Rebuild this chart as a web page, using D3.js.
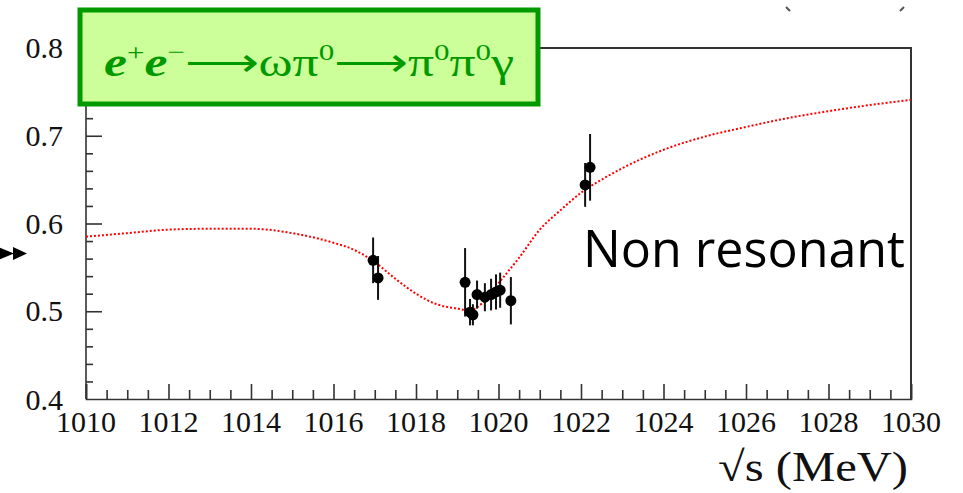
<!DOCTYPE html>
<html>
<head>
<meta charset="utf-8">
<script src="https://cdn.jsdelivr.net/npm/d3@7"></script>
<style>
  body { margin: 0; background: #fff; }
  svg { display: block; }
  .serif { font-family: 'Liberation Serif', 'Times New Roman', serif; }
</style>
</head>
<body>
<div id="chart"></div>
<script>
// fit curve (non resonant + interference)
const curveE = [1010, 1011, 1012, 1013, 1014, 1015, 1016, 1016.5, 1017, 1017.5, 1018, 1018.5, 1019, 1019.3, 1019.6, 1020, 1020.5, 1021, 1021.5, 1022, 1022.5, 1023, 1024, 1025, 1026, 1027, 1028, 1029, 1030];
const curveV = [0.585, 0.589, 0.593, 0.594, 0.594, 0.589, 0.578, 0.570, 0.556, 0.537, 0.520, 0.508, 0.503, 0.501, 0.509, 0.532, 0.561, 0.593, 0.615, 0.635, 0.650, 0.663, 0.684, 0.699, 0.710, 0.720, 0.728, 0.735, 0.741];

// measured points
const ptE = [1016.96, 1017.08, 1019.19, 1019.31, 1019.38, 1019.48, 1019.67, 1019.82, 1019.94, 1020.04, 1020.30, 1022.10, 1022.22];
const ptV = [0.558, 0.538, 0.533, 0.499, 0.496, 0.519, 0.516, 0.519, 0.522, 0.524, 0.512, 0.644, 0.664];
const ptErr = [0.026, 0.025, 0.039, 0.015, 0.012, 0.016, 0.016, 0.018, 0.020, 0.020, 0.027, 0.025, 0.038];

const xTicks = [1010, 1012, 1014, 1016, 1018, 1020, 1022, 1024, 1026, 1028, 1030];
const yTicks = [0.5, 0.6, 0.7, 0.8];

const W = 963, H = 493;
const svg = d3.select("#chart").append("svg")
    .attr("width", W)
    .attr("height", H);

const x = d3.scaleLinear().domain([1010, 1030]).range([86, 911]);
const y = d3.scaleLinear().domain([0.4, 0.8]).range([399, 48]);

const frame = "#333";

// frame (top + right)
svg.append("path")
    .attr("d", `M${x(1010)},${y(0.8)}H${x(1030)}V${y(0.4)}`)
    .attr("fill", "none")
    .attr("stroke", frame)
    .attr("stroke-width", 2);

// minor ticks
const xMinor = d3.range(1010, 1030.01, 0.5).filter(v => v % 2 !== 0);
const yMinor = d3.range(0.4, 0.801, 0.02).filter(v => Math.abs(v * 10 - Math.round(v * 10)) > 1e-6);

const gx = svg.append("g")
    .attr("transform", `translate(0,${y(0.4)})`)
    .call(d3.axisTop(x).tickValues(xTicks).tickSize(15).tickFormat(""));
gx.append("g").call(d3.axisTop(x).tickValues(xMinor).tickSize(9).tickFormat(""))
    .select(".domain").remove();
gx.selectAll("path, line").attr("stroke", frame).attr("stroke-width", 1.6);

const gy = svg.append("g")
    .attr("transform", `translate(${x(1010)},0)`)
    .call(d3.axisRight(y).tickValues(yTicks).tickSize(16).tickFormat(""));
gy.append("g").call(d3.axisRight(y).tickValues(yMinor).tickSize(7).tickFormat(""))
    .select(".domain").remove();
gy.selectAll("path, line").attr("stroke", frame).attr("stroke-width", 1.6);
gy.select(".domain").attr("d", `M0,${y(0.4)}V${y(0.8)}`);

// tick labels
svg.append("g").selectAll("text")
    .data(xTicks)
    .join("text")
    .attr("class", "serif")
    .attr("x", d => x(d))
    .attr("y", 432)
    .attr("text-anchor", "middle")
    .attr("font-size", 30)
    .attr("fill", "#111")
    .text(d => d);

svg.append("g").selectAll("text")
    .data([0.4].concat(yTicks))
    .join("text")
    .attr("class", "serif")
    .attr("x", 63)
    .attr("y", d => d === 0.4 ? 410 : y(d) + 10)
    .attr("text-anchor", "end")
    .attr("font-size", 30)
    .attr("fill", "#111")
    .text(d => d.toFixed(1));

// axis title
svg.append("text")
    .attr("class", "serif")
    .attr("x", 718)
    .attr("y", 481)
    .attr("font-size", 42)
    .attr("textLength", 190)
    .attr("lengthAdjust", "spacingAndGlyphs")
    .attr("fill", "#111")
    .text("√s (MeV)");

// fit curve, red dotted
const line = d3.line()
    .x((d, i) => x(curveE[i]))
    .y((d, i) => y(curveV[i]))
    .curve(d3.curveMonotoneX);

svg.append("path")
    .datum(curveV)
    .attr("fill", "none")
    .attr("stroke", "#f00")
    .attr("stroke-width", 2)
    .attr("stroke-dasharray", "2,2")
    .attr("d", line);

// error bars + points
const pts = ptE.map((e, i) => ({ e: e, v: ptV[i], err: ptErr[i] }));

svg.append("g").selectAll("line")
    .data(pts)
    .join("line")
    .attr("x1", d => x(d.e))
    .attr("x2", d => x(d.e))
    .attr("y1", d => y(d.v - d.err))
    .attr("y2", d => y(d.v + d.err))
    .attr("stroke", "#111")
    .attr("stroke-width", 2);

svg.append("g").selectAll("circle")
    .data(pts)
    .join("circle")
    .attr("cx", d => x(d.e))
    .attr("cy", d => y(d.v))
    .attr("r", 5.5)
    .attr("fill", "#000");

// green legend box
svg.append("rect")
    .attr("x", 80)
    .attr("y", 10)
    .attr("width", 458)
    .attr("height", 94)
    .attr("fill", "#ccff99")
    .attr("stroke", "#009900")
    .attr("stroke-width", 5);

const title = svg.append("text")
    .attr("class", "serif")
    .attr("x", 104)
    .attr("y", 76)
    .attr("font-size", 40)
    .attr("fill", "#009900")
    .attr("textLength", 410)
    .attr("lengthAdjust", "spacingAndGlyphs");
title.append("tspan").attr("font-style", "italic").attr("font-weight", "bold").text("e");
title.append("tspan").attr("font-size", 24).attr("dy", -16).text("+");
title.append("tspan").attr("font-style", "italic").attr("font-weight", "bold").attr("dy", 16).text("e");
title.append("tspan").attr("font-size", 24).attr("dy", -16).text("−");
title.append("tspan").attr("dy", 16).text("⟶ωπ");
title.append("tspan").attr("font-size", 24).attr("dy", -16).text("0");
title.append("tspan").attr("dy", 16).text("⟶π");
title.append("tspan").attr("font-size", 24).attr("dy", -16).text("0");
title.append("tspan").attr("dy", 16).text("π");
title.append("tspan").attr("font-size", 24).attr("dy", -16).text("0");
title.append("tspan").attr("dy", 16).text("γ");

// annotation
svg.append("text")
    .attr("x", 583)
    .attr("y", 267)
    .attr("font-family", "'Open Sans', sans-serif")
    .attr("font-size", 52)
    .attr("textLength", 322)
    .attr("lengthAdjust", "spacingAndGlyphs")
    .attr("fill", "#000")
    .text("Non resonant");

// arrow at the left edge
svg.append("path")
    .attr("d", "M-2,247L14,253.5L-2,260Z M13,247L27,253.5L13,260Z")
    .attr("fill", "#000");

// small marks at the top
svg.append("path")
    .attr("d", "M786,7L790,11 M900,11L904,7")
    .attr("stroke", "#555")
    .attr("stroke-width", 2);
</script>
</body>
</html>
